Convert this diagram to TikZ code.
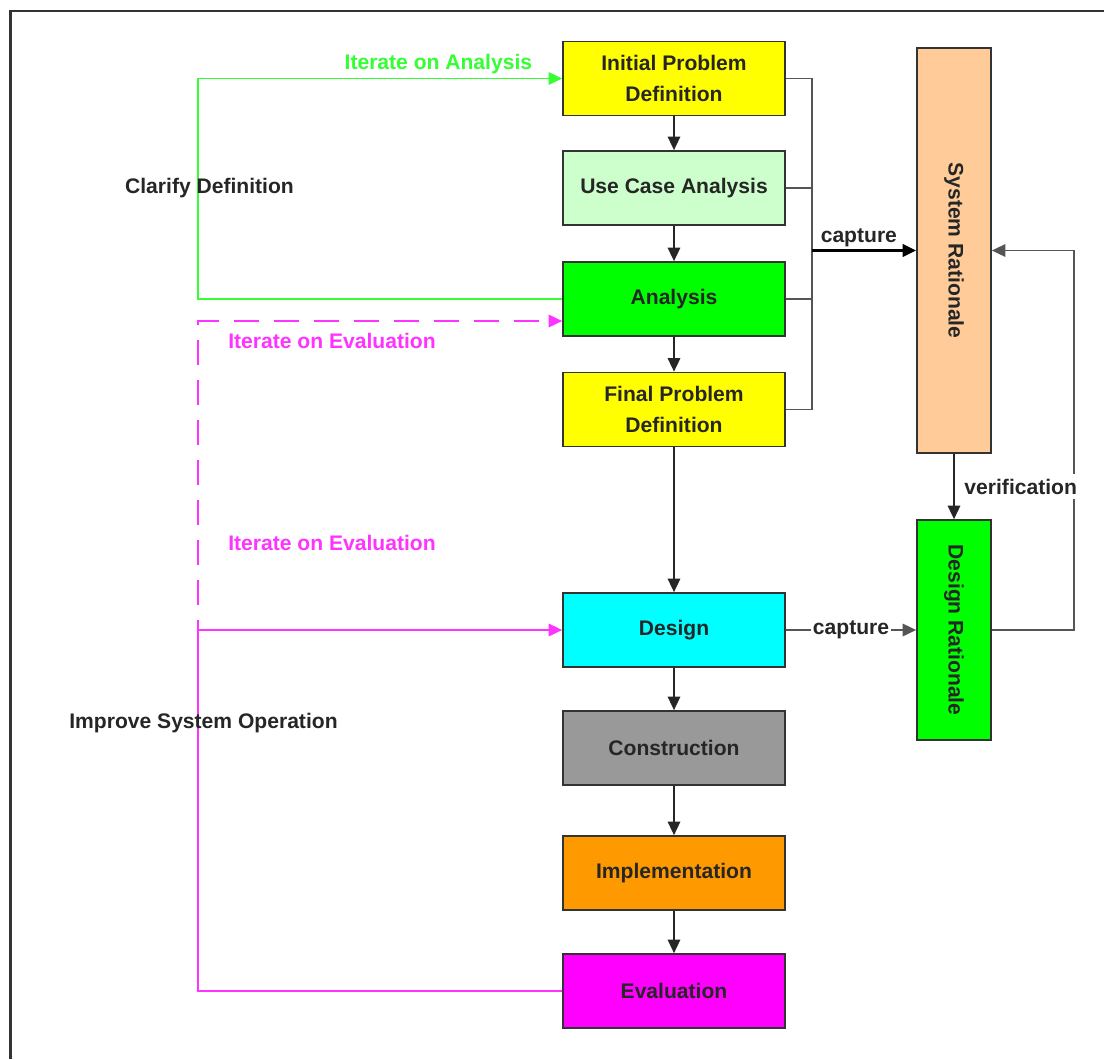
\documentclass[tikz,border=0pt]{standalone}
\usepackage{fontspec}
\setmainfont{Liberation Sans}
\usetikzlibrary{positioning,arrows.meta}
\definecolor{stgyellow}{HTML}{FFFF00}
\definecolor{stgmint}{HTML}{CCFFCC}
\definecolor{stggreen}{HTML}{00FF00}
\definecolor{stgcyan}{HTML}{00FFFF}
\definecolor{stggrey}{HTML}{999999}
\definecolor{stgorange}{HTML}{FF9900}
\definecolor{stgmagenta}{HTML}{FF00FF}
\definecolor{ratpeach}{HTML}{FFCC99}
\definecolor{loopgreen}{HTML}{33FF33}
\definecolor{loopmagenta}{HTML}{FF33FF}
\definecolor{edgegrey}{HTML}{555555}

\begin{document}
\begin{tikzpicture}[x=0.02cm,y=-0.02cm,
  stage/.style={draw=black!80,line width=1pt,minimum width=4.44cm,minimum height=1.48cm,inner sep=0pt,align=center,font=\bfseries\fontsize{12}{17.6}\selectfont,text=black!85},
  ratbox/.style={draw=black!80,line width=1pt,minimum width=1.48cm,inner sep=0pt,font=\bfseries\fontsize{12}{14}\selectfont,text=black!85},
  flow/.style={draw=black!85,line width=0.9pt,-{Triangle[length=0.27cm,width=0.25cm]}},
  link/.style={draw=edgegrey,line width=1pt},
  lbl/.style={font=\bfseries\fontsize{12}{14}\selectfont,text=black!85,inner sep=1.5pt},
  iterA/.style={draw=loopgreen,line width=1pt,-{Triangle[length=0.27cm,width=0.25cm]}},
  iterE/.style={draw=loopmagenta,line width=1pt,-{Triangle[length=0.27cm,width=0.25cm]}}]
\useasboundingbox (0,0) rectangle (1104,1059);
% frame
\draw[black!80,line width=1.6pt] (10.5,1059) -- (10.5,11) -- (1104,11);
% process stages
\node[stage,fill=stgyellow] (ipd) at (674,78.5) {Initial Problem\\Definition};
\node[stage,fill=stgmint] (uca) at (674,188) {Use Case Analysis};
\node[stage,fill=stggreen] (ana) at (674,299) {Analysis};
\node[stage,fill=stgyellow] (fpd) at (674,409.5) {Final Problem\\Definition};
\node[stage,fill=stgcyan] (des) at (674,630) {Design};
\node[stage,fill=stggrey] (con) at (674,748) {Construction};
\node[stage,fill=stgorange] (imp) at (674,873) {Implementation};
\node[stage,fill=stgmagenta] (eva) at (674,991) {Evaluation};
% rationale
\node[ratbox,fill=ratpeach,minimum height=8.1cm] (sysrat) at (954,250.5) {\rotatebox{-90}{System Rationale}};
\node[ratbox,fill=stggreen,minimum height=4.4cm] (desrat) at (954,630) {\rotatebox{-90}{Design Rationale}};
\coordinate (bus) at (812,0);
% main chain
\draw[flow] (ipd) -- (uca);
\draw[flow] (uca) -- (ana);
\draw[flow] (ana) -- (fpd);
\draw[flow] (fpd) -- (des);
\draw[flow] (des) -- (con);
\draw[flow] (con) -- (imp);
\draw[flow] (imp) -- (eva);
% capture of system rationale
\draw[link] (ipd.east) -- (ipd.east -| bus) |- (fpd.east);
\draw[link] (uca.east) -- (uca.east -| bus);
\draw[link] (ana.east) -- (ana.east -| bus);
\draw[flow,draw=black,line width=1.5pt] (sysrat.west -| bus) -- node[lbl,above,pos=0.45] (cap1) {capture} (sysrat.west);
% design rationale
\draw[link,-{Triangle[length=0.27cm,width=0.25cm]}] (desrat.east) -- ++(82,0) |- (sysrat.east);
\draw[flow] (sysrat) -- node[lbl,right,xshift=3pt,inner sep=2.5pt,fill=white] (verif) {verification} (desrat);
\draw[link,-{Triangle[length=0.27cm,width=0.25cm]}] (des) -- node[lbl,fill=white,inner xsep=1pt] (cap2) {capture} (desrat);
% feedback loops
\draw[iterA] (ana.west) -- ++(-364,0) |- node[pos=0.83,above,font=\bfseries\fontsize{12}{14}\selectfont,text=loopgreen,inner sep=2pt] (itana) {Iterate on Analysis} (ipd.west);
\node[lbl] (clar) at (209.5,188) {Clarify Definition};
\draw[iterE,dash pattern=on 0.5cm off 0.3cm,dash phase=0.2cm] (eva.west) -- ++(-364,0) |- ([yshift=-0.44cm]ana.west);
\draw[iterE] (eva.west) -- ++(-364,0) |- (des.west);
\node[lbl,text=loopmagenta] (iteva1) at (332,341) {Iterate on Evaluation};
\node[lbl,text=loopmagenta] (iteva2) at (332,543) {Iterate on Evaluation};
\node[lbl] (impr) at (203.5,723) {Improve System Operation};
\end{tikzpicture}
\end{document}
